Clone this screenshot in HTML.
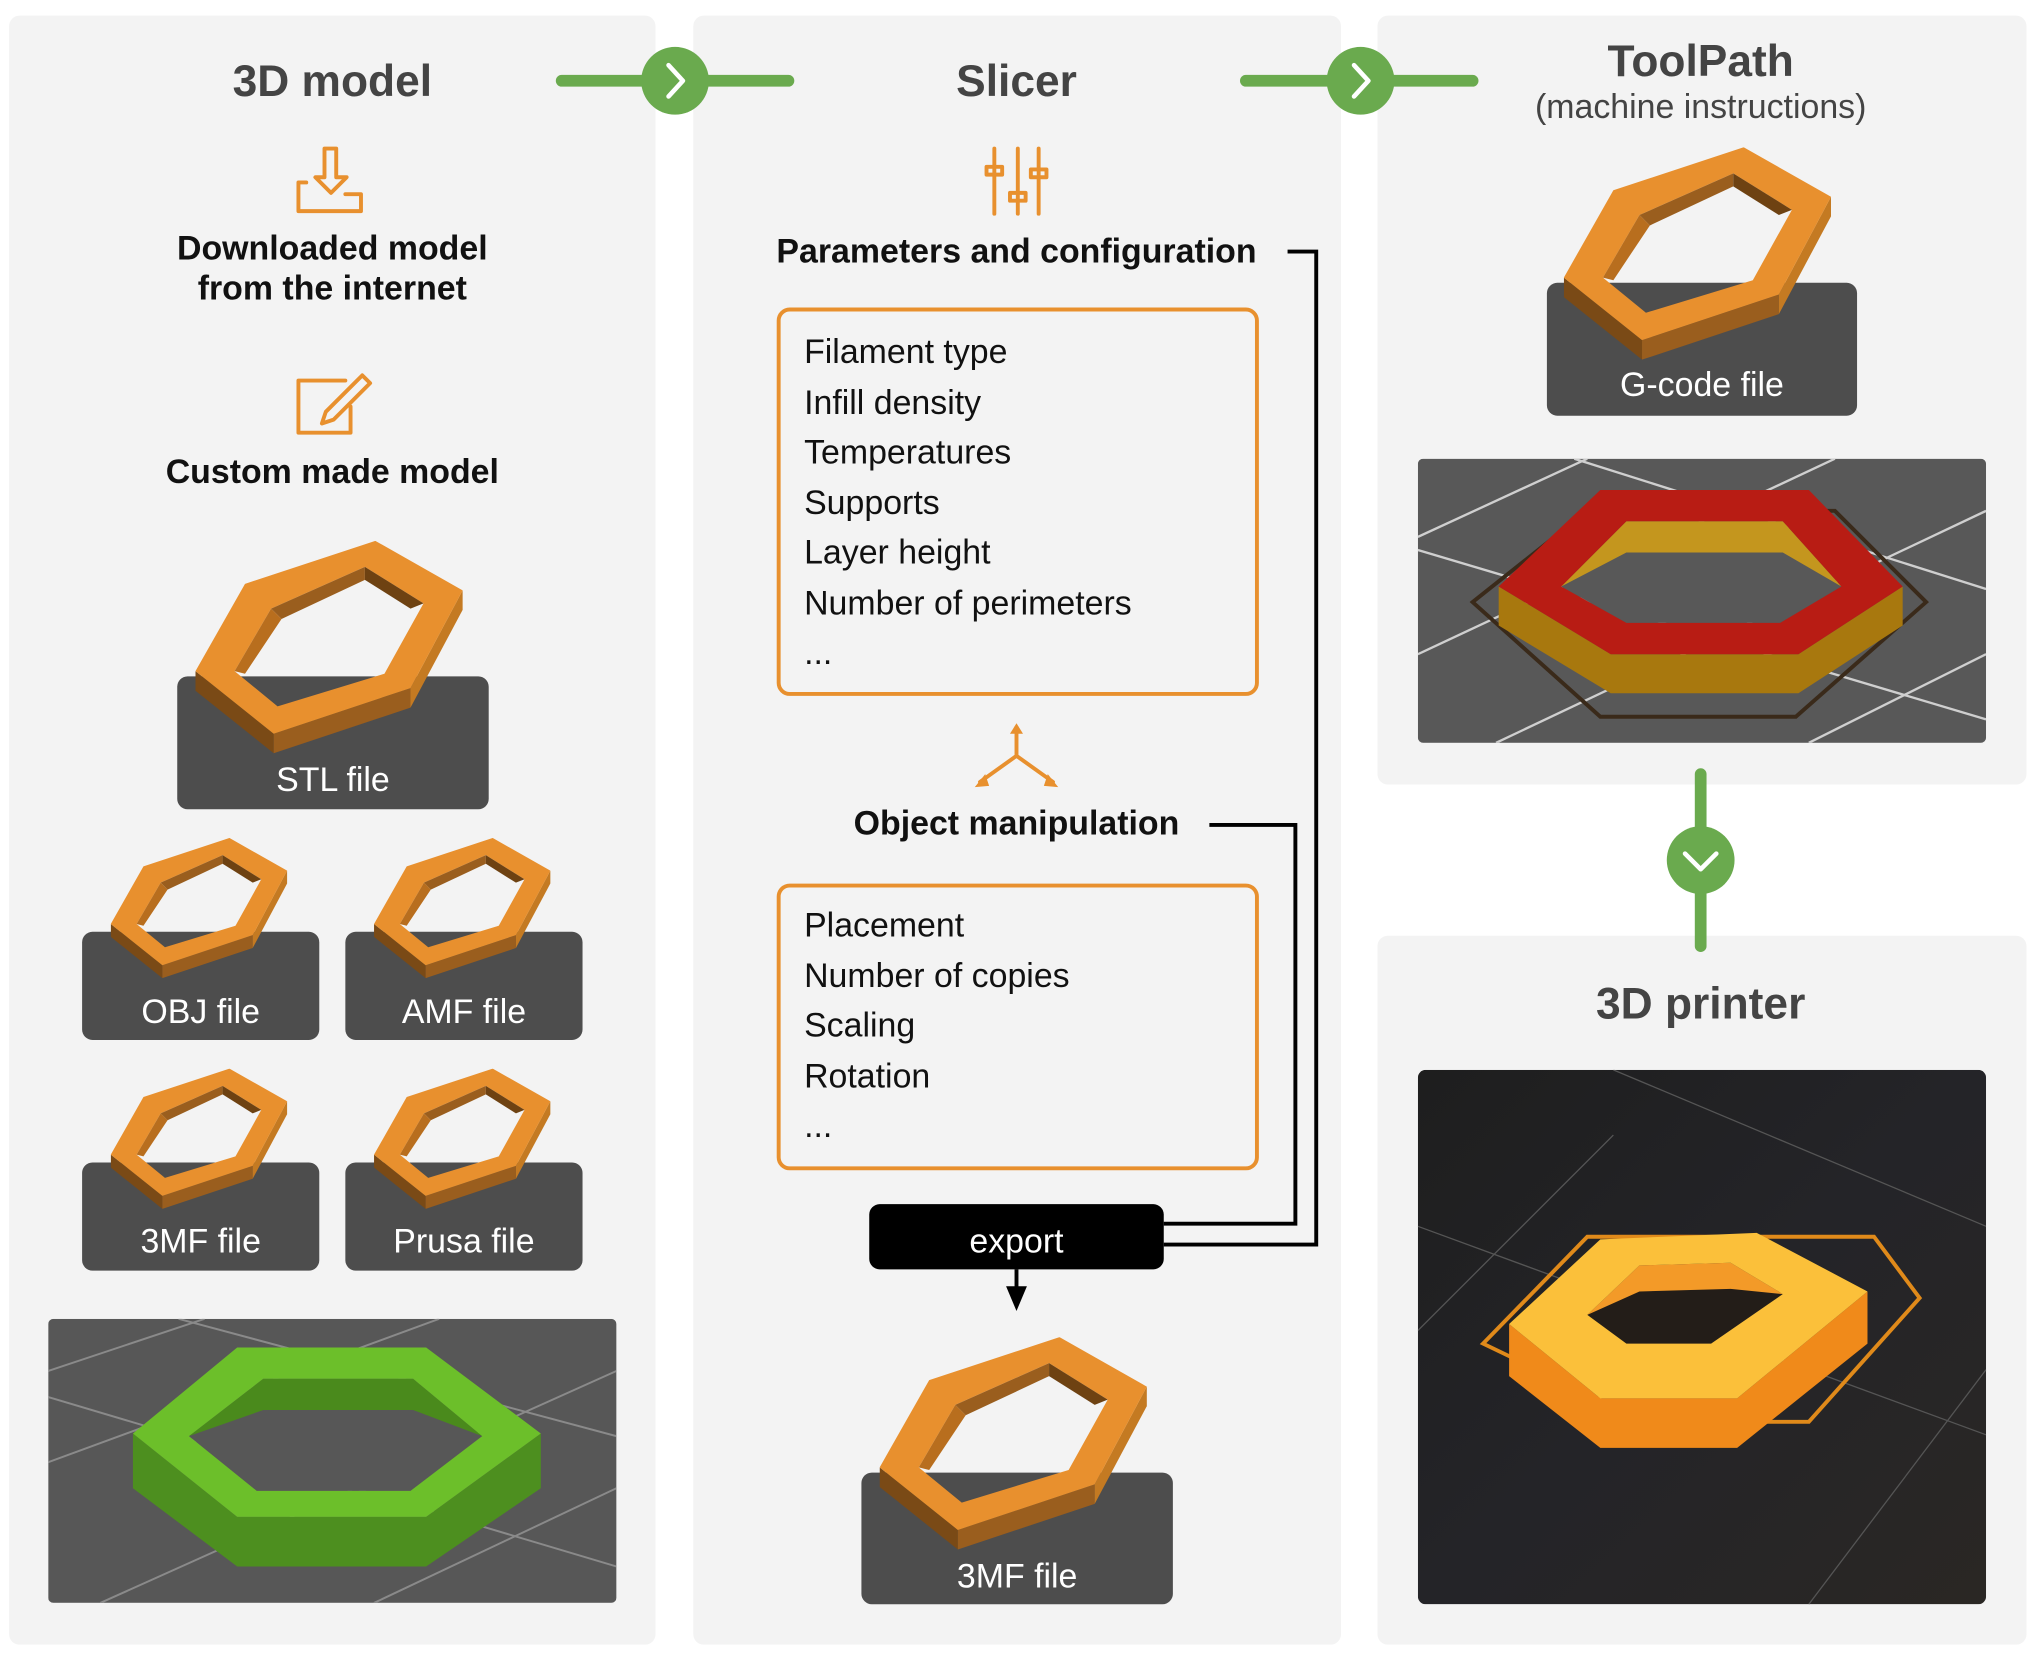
<!DOCTYPE html>
<html><head><meta charset="utf-8">
<style>
html,body{margin:0;padding:0;background:#fff;}
body{width:2033px;height:1648px;overflow:hidden;position:relative;font-family:"Liberation Sans",sans-serif;}
#wrap{position:absolute;left:0;top:0;width:1560px;height:1265px;transform:scale(1.3032);transform-origin:0 0;}
.abs{position:absolute;}
.panel{position:absolute;background:#f3f3f3;border-radius:8px;}
.title{position:absolute;font-weight:bold;color:#444;font-size:34px;text-align:center;transform:translate(-50%,-50%);white-space:nowrap;}
.sub{position:absolute;font-weight:bold;color:#111;font-size:26px;text-align:center;transform:translate(-50%,-50%);white-space:nowrap;line-height:31px;}
.file{position:absolute;background:#4d4d4d;border-radius:8px;color:#fff;font-size:26px;text-align:center;}
.box{position:absolute;border:3px solid #e8902e;border-radius:10px;box-sizing:border-box;}
.item{position:absolute;left:18px;font-size:26px;color:#111;white-space:nowrap;transform:translateY(-50%);}
</style></head>
<body>
<div id="wrap">
<svg width="0" height="0" style="position:absolute">
 <defs>
  <g id="hex">
   <polygon points="0,100 0,115 60,163 60,148" fill="#7a4a16"/>
   <polygon points="60,148 60,163 165,128 165,113" fill="#9a5e1e"/>
   <polygon points="165,113 165,128 205,53 205,38" fill="#c47a22"/>
   <path fill-rule="evenodd" fill="#e8902e" d="M138,0 L205,38 L165,113 L60,148 L0,100 L38,33 Z M130,20 L175,48 L145,102 L63,127 L30,100 L58,52 Z"/>
   <polygon points="58,52 130,20 130,30 66,60" fill="#9a5e1e"/>
   <polygon points="130,20 175,48 165,52 130,30" fill="#6e4212"/>
   <polygon points="58,52 66,60 38,102 30,100" fill="#b86e1e"/>
  </g>
 </defs>
</svg>

<div class="panel" style="left:7px;top:12px;width:496px;height:1250px"></div>
<div class="panel" style="left:532px;top:12px;width:497px;height:1250px"></div>
<div class="panel" style="left:1057px;top:12px;width:498px;height:590px"></div>
<div class="panel" style="left:1057px;top:718px;width:498px;height:544px"></div>

<svg class="abs" style="left:0;top:0" width="1560" height="1265">
 <g stroke="#6aaa4e" stroke-width="9" stroke-linecap="round" fill="none">
  <line x1="431" y1="62" x2="605" y2="62"/>
  <line x1="956" y1="62" x2="1130" y2="62"/>
  <line x1="1305" y1="594" x2="1305" y2="726"/>
 </g>
 <g fill="#6aaa4e"><circle cx="518" cy="62" r="26"/><circle cx="1044" cy="62" r="26"/><circle cx="1305" cy="660" r="26"/></g>
 <g stroke="#fff" stroke-width="3.5" fill="none" stroke-linecap="round" stroke-linejoin="round">
  <polyline points="513,50 524,62 513,74"/><polyline points="1039,50 1050,62 1039,74"/><polyline points="1293,655 1305,667 1317,655"/>
 </g>
 <g stroke="#000" stroke-width="3" fill="none">
  <polyline points="988,193 1010,193 1010,955 893,955"/>
  <polyline points="928,633 994,633 994,939 893,939"/>
  <line x1="780" y1="974" x2="780" y2="990"/>
 </g>
 <polygon points="772,987 788,987 780,1006" fill="#000"/>
 <g stroke="#e8902e" stroke-width="3" fill="none" stroke-linejoin="round" stroke-linecap="round">
  <path d="M249,114 h9 v22 h8 l-12,12 l-12,-12 h7 z"/>
  <path d="M235,140 h-6 v22 h48 v-13 h-12"/>
  <path d="M229,292 h36 M229,292 v40 h40 v-20"/>
  <path d="M278,288 l6,6 l-28,28 l-9,3 l3,-9 z"/>
  <path d="M763,114 v50 M781,114 v50 M797,114 v50"/>
  <path d="M757,128 h12 v6 h-12 z M775,148 h12 v6 h-12 z M791,130 h12 v6 h-12 z"/>
  <path d="M780,580 v-22 M780,580 l-28,20 M780,580 l28,20"/>
 </g>
 <g fill="#e8902e"><polygon points="775,563 785,563 780,555"/><polygon points="748,604 756,594 759,603"/><polygon points="812,604 804,594 801,603"/></g>
</svg>

<div class="title" style="left:255px;top:63px">3D model</div>
<div class="sub" style="left:255px;top:206px">Downloaded model<br>from the internet</div>
<div class="sub" style="left:255px;top:362px">Custom made model</div>

<div class="file" style="left:136px;top:519px;width:239px;height:102px;line-height:158px">STL file</div>
<svg class="abs" style="left:150px;top:415px" width="215" height="170"><use href="#hex"/></svg>

<div class="file" style="left:63px;top:715px;width:182px;height:83px;line-height:122px">OBJ file</div>
<svg class="abs" style="left:85px;top:643px" width="140" height="110"><g transform="scale(0.66)"><use href="#hex"/></g></svg>
<div class="file" style="left:265px;top:715px;width:182px;height:83px;line-height:122px">AMF file</div>
<svg class="abs" style="left:287px;top:643px" width="140" height="110"><g transform="scale(0.66)"><use href="#hex"/></g></svg>
<div class="file" style="left:63px;top:892px;width:182px;height:83px;line-height:120px">3MF file</div>
<svg class="abs" style="left:85px;top:820px" width="140" height="110"><g transform="scale(0.66)"><use href="#hex"/></g></svg>
<div class="file" style="left:265px;top:892px;width:182px;height:83px;line-height:120px">Prusa file</div>
<svg class="abs" style="left:287px;top:820px" width="140" height="110"><g transform="scale(0.66)"><use href="#hex"/></g></svg>

<svg class="abs" style="left:37px;top:1012px" width="436" height="218">
 <rect width="436" height="218" fill="#575757" rx="4"/>
 <g stroke="#8a8a8a" stroke-width="1.5"><line x1="0" y1="40" x2="120" y2="0"/><line x1="0" y1="110" x2="300" y2="0"/><line x1="40" y1="218" x2="436" y2="40"/><line x1="250" y1="218" x2="436" y2="130"/><line x1="0" y1="60" x2="436" y2="190"/><line x1="100" y1="0" x2="436" y2="90"/></g>
 <polygon points="65,88 65,130 145,190 290,190 378,130 378,88 290,152 145,152" fill="#4d8f1f"/>
 <polygon points="108,90 165,46 280,46 333,90 278,132 160,132" fill="#575757"/>
 <polygon points="108,90 165,46 280,46 333,90 280,70 165,70" fill="#4a8a1c"/>
 <path fill-rule="evenodd" fill="#6cbf2a" d="M65,88 L145,22 L290,22 L378,88 L290,152 L145,152 Z M108,90 L165,46 L280,46 L333,90 L278,132 L160,132 Z"/>
</svg>

<div class="title" style="left:780px;top:63px">Slicer</div>
<div class="sub" style="left:780px;top:193px">Parameters and configuration</div>
<div class="box" style="left:596px;top:236px;width:370px;height:298px">
 <div class="item" style="top:31px">Filament type</div>
 <div class="item" style="top:70px">Infill density</div>
 <div class="item" style="top:108px">Temperatures</div>
 <div class="item" style="top:147px">Supports</div>
 <div class="item" style="top:185px">Layer height</div>
 <div class="item" style="top:224px">Number of perimeters</div>
 <div class="item" style="top:262px">...</div>
</div>
<div class="sub" style="left:780px;top:632px">Object manipulation</div>
<div class="box" style="left:596px;top:678px;width:370px;height:220px">
 <div class="item" style="top:29px">Placement</div>
 <div class="item" style="top:68px">Number of copies</div>
 <div class="item" style="top:106px">Scaling</div>
 <div class="item" style="top:145px">Rotation</div>
 <div class="item" style="top:183px">...</div>
</div>
<div class="abs" style="left:667px;top:924px;width:226px;height:50px;background:#000;border-radius:8px;color:#fff;font-size:26px;text-align:center;line-height:56px">export</div>
<div class="file" style="left:661px;top:1130px;width:239px;height:101px;line-height:158px">3MF file</div>
<svg class="abs" style="left:675px;top:1026px" width="215" height="170"><use href="#hex"/></svg>

<div class="title" style="left:1305px;top:48px">ToolPath</div>
<div class="abs" style="left:1305px;top:82px;transform:translate(-50%,-50%);font-size:26px;color:#444;white-space:nowrap">(machine instructions)</div>
<div class="file" style="left:1187px;top:217px;width:238px;height:102px;line-height:156px">G-code file</div>
<svg class="abs" style="left:1200px;top:113px" width="215" height="170"><use href="#hex"/></svg>

<svg class="abs" style="left:1088px;top:352px" width="436" height="218">
 <rect width="436" height="218" fill="#585858" rx="4"/>
 <g stroke="#cfcfcf" stroke-width="1.8"><line x1="0" y1="60" x2="130" y2="0"/><line x1="0" y1="150" x2="320" y2="0"/><line x1="60" y1="218" x2="436" y2="40"/><line x1="300" y1="218" x2="436" y2="150"/><line x1="0" y1="70" x2="436" y2="200"/><line x1="120" y1="0" x2="436" y2="100"/></g>
 <polygon points="42,110 130,40 320,40 390,110 290,198 140,198" fill="none" stroke="#3a2a1a" stroke-width="3"/>
 <polygon points="62,98 62,128 148,180 292,180 372,128 372,98 292,150 148,150" fill="#a8780e"/>
 <polygon points="110,98 160,48 280,48 325,98 278,126 160,126" fill="#585858"/>
 <polygon points="110,98 160,48 280,48 325,98 280,72 160,72" fill="#c4961e"/>
 <path fill-rule="evenodd" fill="#b81c14" d="M62,98 L140,24 L300,24 L372,98 L292,150 L148,150 Z M110,98 L160,48 L280,48 L325,98 L278,126 L160,126 Z"/>
</svg>

<div class="title" style="left:1305px;top:771px">3D printer</div>
<svg class="abs" style="left:1088px;top:821px" width="436" height="410">
 <defs><linearGradient id="bg" x1="0" y1="0" x2="1" y2="1"><stop offset="0" stop-color="#1e1e1e"/><stop offset="0.5" stop-color="#242428"/><stop offset="1" stop-color="#2a2724"/></linearGradient></defs>
 <rect width="436" height="410" fill="url(#bg)" rx="6"/>
 <g stroke="#555" stroke-width="1"><line x1="0" y1="200" x2="150" y2="50"/><line x1="0" y1="120" x2="436" y2="280"/><line x1="150" y1="0" x2="436" y2="120"/><line x1="300" y1="410" x2="436" y2="230"/></g>
 <polygon points="50,210 130,128 350,128 385,175 300,270 175,270" fill="none" stroke="#e08a1a" stroke-width="3"/>
 <polygon points="70,195 70,235 140,290 245,290 345,210 345,170 245,252 140,252" fill="#f08a1a"/>
 <polygon points="130,188 170,150 240,148 280,172 225,210 160,210" fill="#231d18"/>
 <polygon points="130,188 170,150 240,148 280,172 240,168 170,170" fill="#f39a28"/>
 <path fill-rule="evenodd" fill="#fbc03a" d="M70,195 L140,130 L260,125 L345,170 L245,252 L140,252 Z M130,188 L170,150 L240,148 L280,172 L225,210 L160,210 Z"/>
</svg>
</div>
</body></html>
